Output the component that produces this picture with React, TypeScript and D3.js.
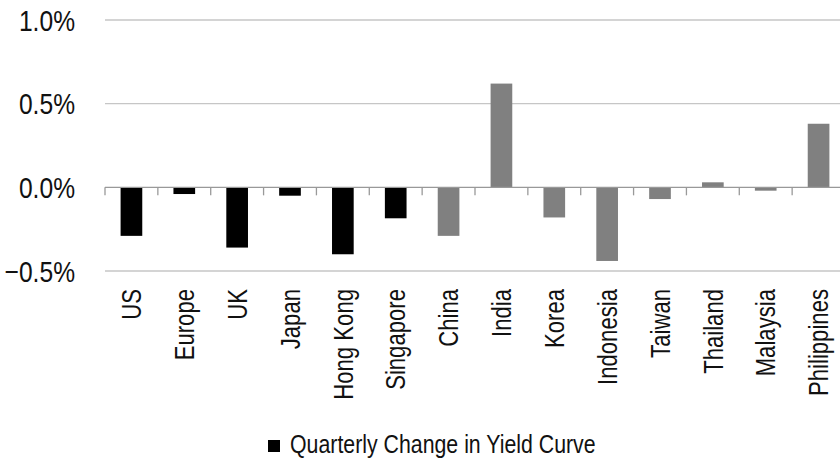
import React from "react";
import * as d3 from "d3";

const categories: string[] = [
  "US", "Europe", "UK", "Japan", "Hong Kong", "Singapore", "China",
  "India", "Korea", "Indonesia", "Taiwan", "Thailand", "Malaysia", "Philippines",
];

// Quarterly change in yield curve, percentage points
const values: number[] = [
  -0.29, -0.04, -0.36, -0.05, -0.4, -0.185, -0.29,
  0.62, -0.18, -0.44, -0.07, 0.03, -0.02, 0.38,
];

// Developed markets drawn in black, Asian emerging markets in grey
const groups: string[] = [
  "dm", "dm", "dm", "dm", "dm", "dm", "em",
  "em", "em", "em", "em", "em", "em", "em",
];

const yTicks: number[] = [-0.5, 0, 0.5, 1.0];
const legendLabel = "Quarterly Change in Yield Curve";

const W = 840;
const H = 463;
const FONT = "'Liberation Sans Narrow', 'Arial Narrow', 'Liberation Sans', Arial, sans-serif";
// Condensed look: Arial Narrow is Arial compressed horizontally to 82%
const NARROW = 0.82;

export default function App() {
  const x = d3.scaleBand<string>().domain(categories).range([105, 845]).padding(0);
  const y = d3.scaleLinear().domain([-0.5, 1.0]).range([271, 20]);
  const bw = x.bandwidth() * 0.41;
  const color = (g: string) => (g === "dm" ? "#000000" : "#808080");
  const fmt = d3.format(".1f");

  return (
    <svg
      width={W}
      height={H}
      style={{ position: "absolute", left: 0, top: 0, background: "#fff" }}
      fontFamily={FONT}
    >
      {/* horizontal gridlines */}
      {yTicks.filter((t) => t !== 0).map((t) => (
        <line key={t} x1={105} x2={W} y1={y(t)} y2={y(t)} stroke="#c6c6c6" strokeWidth={1.3} />
      ))}
      {/* y tick labels */}
      {yTicks.map((t) => (
        <text
          key={t}
          transform={`translate(75,${y(t)}) scale(${NARROW},1)`}
          dy="0.36em"
          textAnchor="end"
          fontSize={30}
          fill="#111"
        >
          {fmt(t)}%
        </text>
      ))}
      {/* bars */}
      {categories.map((c, i) => {
        const v = values[i];
        const cx = (x(c) as number) + x.bandwidth() / 2;
        return (
          <rect
            key={c}
            x={cx - bw / 2}
            width={bw}
            y={Math.min(y(v), y(0))}
            height={Math.abs(y(v) - y(0))}
            fill={color(groups[i])}
          />
        );
      })}
      {/* zero axis with category tick marks */}
      <line x1={105} x2={W} y1={y(0)} y2={y(0)} stroke="#999" strokeWidth={1.3} />
      {categories.map((c) => (
        <line key={c} x1={x(c) as number} x2={x(c) as number} y1={y(0)} y2={y(0) + 8} stroke="#999" strokeWidth={1.3} />
      ))}
      {/* category labels, rotated */}
      {categories.map((c) => {
        const cx = (x(c) as number) + x.bandwidth() / 2;
        return (
          <text
            key={c}
            transform={`translate(${cx},289) rotate(-90) scale(${NARROW},1)`}
            dy="0.36em"
            textAnchor="end"
            fontSize={27}
            fill="#111"
          >
            {c}
          </text>
        );
      })}
      {/* legend */}
      <rect x={268} y={440} width={12} height={12} fill="#000" />
      <text transform={`translate(290,453) scale(${NARROW},1)`} fontSize={26} fill="#111">
        {legendLabel}
      </text>
    </svg>
  );
}
